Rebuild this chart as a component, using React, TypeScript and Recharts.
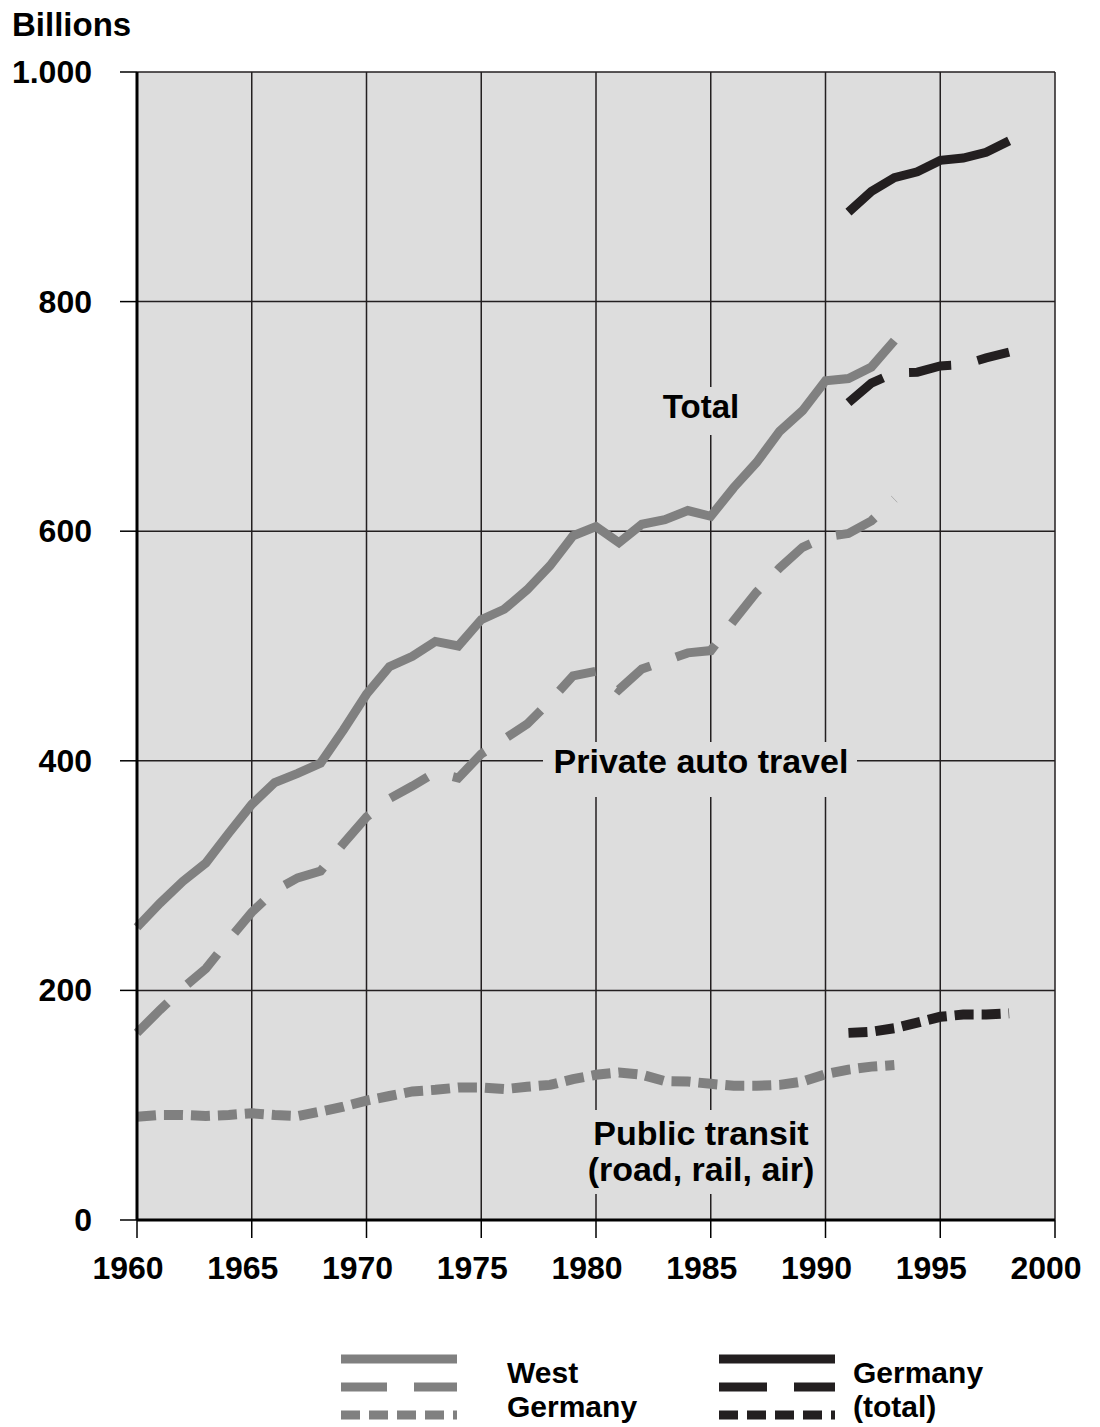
import React from 'react';
import { LineChart, Line, XAxis, YAxis, CartesianGrid, Customized } from 'recharts';

const years = [
    1960, 1961, 1962, 1963, 1964, 1965, 1966, 1967, 1968, 1969,
    1970, 1971, 1972, 1973, 1974, 1975, 1976, 1977, 1978, 1979,
    1980, 1981, 1982, 1983, 1984, 1985, 1986, 1987, 1988, 1989,
    1990, 1991, 1992, 1993, 1994, 1995, 1996, 1997, 1998,
];

// West Germany, 1960-1993
const westTotal = [
    255, 276, 295, 311, 337, 362, 381, 389, 398, 427,
    458, 482, 491, 504, 500, 523, 532, 549, 570, 596,
    604, 590, 606, 610, 618, 613, 638, 660, 687, 705,
    731, 733, 743, 766,
];
const westPrivate = [
    163, 183, 202, 219, 244, 268, 287, 298, 304, 328,
    351, 367, 378, 390, 385, 406, 419, 432, 452, 474,
    478, 462, 480, 487, 494, 496, 522, 547, 568, 586,
    595, 598, 609, 628,
];
const westPublic = [
    90, 91.5, 91.5, 90.6, 91.5, 93, 91.5, 90.6, 94.5, 98.8,
    104, 108, 112, 113.4, 115.4, 115.4, 114, 116, 117.7, 122.7,
    126.5, 128.5, 126.5, 121, 120.6, 118.6, 116.9, 116.9, 117.7, 120.6,
    127, 131, 133.6, 135,
];

// Germany (total), 1991-1998
const germanyStart = 1991;
const germanyTotal = [878, 896, 908, 913, 923, 925, 930, 940];
const germanyPrivate = [712, 729, 738, 738.5, 744, 745, 751, 756];
const germanyPublic = [163, 164, 167, 172, 177, 179, 179, 180];

const xTicks = [1960, 1965, 1970, 1975, 1980, 1985, 1990, 1995, 2000];
const yTicks = [0, 200, 400, 600, 800, 1000];

const data = years.map((year, i) => {
    const g = year - germanyStart;
    return {
        year,
        wTotal: i < westTotal.length ? westTotal[i] : null,
        wPrivate: i < westPrivate.length ? westPrivate[i] : null,
        wPublic: i < westPublic.length ? westPublic[i] : null,
        gTotal: g >= 0 ? germanyTotal[g] : null,
        gPrivate: g >= 0 ? germanyPrivate[g] : null,
        gPublic: g >= 0 ? germanyPublic[g] : null,
    };
});

const FONT = '"Liberation Sans", Arial, sans-serif';
const WEST = '#808080';
const GER = '#231f20';
const BG = '#dddddd';
const DASH = '43 27';
const DOT = '19 8';

const XTick = ({ x, y, payload }: any) => (
    <text x={x - 9} y={y} dy={39} textAnchor="middle" fontFamily={FONT} fontWeight="bold" fontSize={32} fill="#000">
        {payload.value}
    </text>
);

const YTick = ({ x, y, payload }: any) => (
    <text x={x - 26} y={y} dy={11} textAnchor="end" fontFamily={FONT} fontWeight="bold" fontSize={32} fill="#000">
        {payload.value === 1000 ? '1.000' : payload.value}
    </text>
);

const Annotations = () => (
    <g fontFamily={FONT} fontWeight="bold" fill="#000">
        <text x={12} y={36} fontSize={33}>Billions</text>
        <rect x={655} y={387} width={94} height={48} fill={BG} />
        <text x={701} y={418} fontSize={33} textAnchor="middle">Total</text>
        <rect x={543} y={742} width={314} height={55} fill={BG} />
        <text x={701} y={773} fontSize={34} textAnchor="middle">Private auto travel</text>
        <rect x={585} y={1110} width={235} height={84} fill={BG} />
        <text x={701} y={1145} fontSize={34} textAnchor="middle">Public transit</text>
        <text x={701} y={1181} fontSize={34} textAnchor="middle">(road, rail, air)</text>
    </g>
);

const LegendKey = () => (
    <svg width={1100} height={127} style={{ position: 'absolute', left: 0, top: 1300 }}>
        <g strokeWidth={9}>
            <line x1={341} x2={457} y1={59} y2={59} stroke={WEST} />
            <line x1={341} x2={457} y1={87} y2={87} stroke={WEST} strokeDasharray="46 27" />
            <line x1={341} x2={457} y1={115} y2={115} stroke={WEST} strokeDasharray="19 9" />
            <line x1={719} x2={835} y1={59} y2={59} stroke={GER} />
            <line x1={719} x2={835} y1={87} y2={87} stroke={GER} strokeDasharray="48 27" />
            <line x1={719} x2={835} y1={115} y2={115} stroke={GER} strokeDasharray="19 9" />
        </g>
        <g fontFamily={FONT} fontWeight="bold" fontSize={30} fill="#000">
            <text x={507} y={83}>West</text>
            <text x={507} y={117}>Germany</text>
            <text x={853} y={83}>Germany</text>
            <text x={853} y={117}>(total)</text>
        </g>
    </svg>
);

export default function App() {
    return (
        <div style={{ position: 'absolute', left: 0, top: 0, width: 1100, height: 1427, background: '#fff' }}>
            <LineChart width={1100} height={1300} data={data} margin={{ top: 72, right: 45, bottom: 0, left: 0 }}>
                <CartesianGrid fill={BG} fillOpacity={1} stroke={GER} strokeWidth={1.5} />
                <XAxis
                    dataKey="year"
                    type="number"
                    domain={[1960, 2000]}
                    ticks={xTicks}
                    height={80}
                    tickSize={18}
                    axisLine={{ stroke: '#000', strokeWidth: 3 }}
                    tickLine={{ stroke: '#000', strokeWidth: 1.5 }}
                    tick={<XTick />}
                    interval={0}
                />
                <YAxis
                    type="number"
                    domain={[0, 1000]}
                    ticks={yTicks}
                    width={137}
                    tickSize={17}
                    axisLine={{ stroke: '#000', strokeWidth: 3 }}
                    tickLine={{ stroke: '#000', strokeWidth: 1.5 }}
                    tick={<YTick />}
                    interval={0}
                />
                <Customized component={Annotations} />
                <Line dataKey="wTotal" stroke={WEST} strokeWidth={9} dot={false} isAnimationActive={false} />
                <Line dataKey="wPrivate" stroke={WEST} strokeWidth={9} strokeDasharray={DASH} dot={false} isAnimationActive={false} />
                <Line dataKey="wPublic" stroke={WEST} strokeWidth={10} strokeDasharray={DOT} dot={false} isAnimationActive={false} />
                <Line dataKey="gTotal" stroke={GER} strokeWidth={9} dot={false} isAnimationActive={false} />
                <Line dataKey="gPrivate" stroke={GER} strokeWidth={9} strokeDasharray={DASH} dot={false} isAnimationActive={false} />
                <Line dataKey="gPublic" stroke={GER} strokeWidth={10} strokeDasharray={DOT} dot={false} isAnimationActive={false} />
            </LineChart>
            <LegendKey />
        </div>
    );
}
